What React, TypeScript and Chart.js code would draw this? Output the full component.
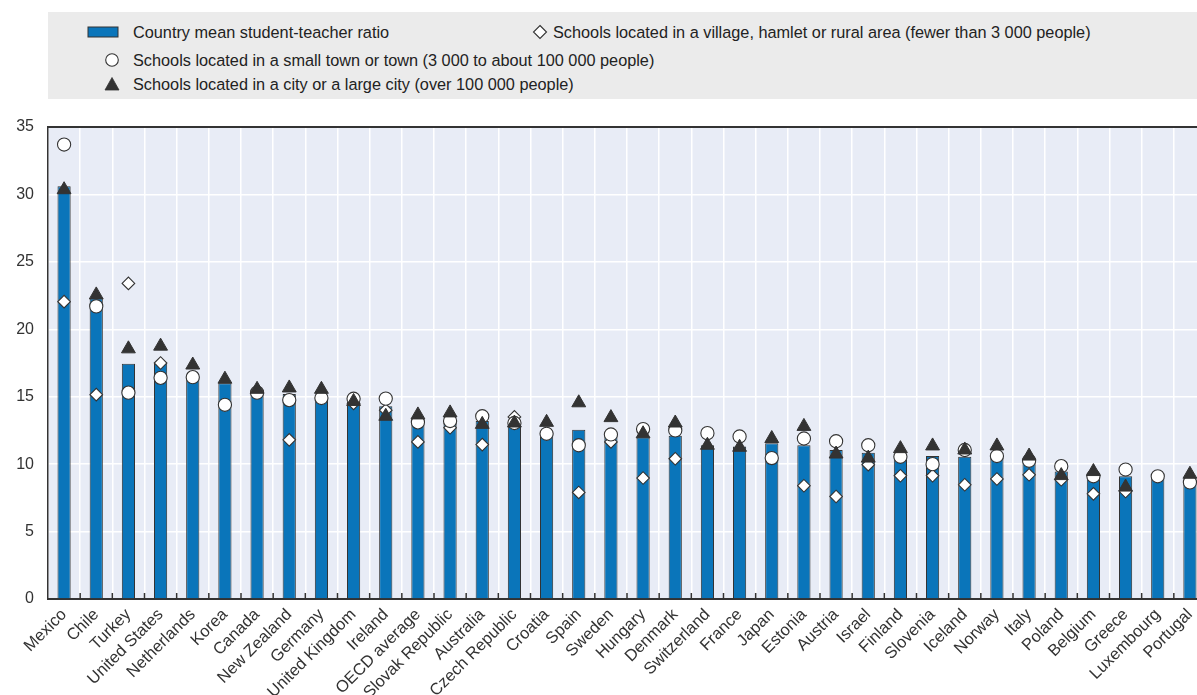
import React, { useEffect, useRef } from "react";
import { Chart, registerables } from "chart.js";

Chart.register(...registerables);

const countries = [
  "Mexico", "Chile", "Turkey", "United States", "Netherlands", "Korea", "Canada",
  "New Zealand", "Germany", "United Kingdom", "Ireland", "OECD average",
  "Slovak Republic", "Australia", "Czech Republic", "Croatia", "Spain", "Sweden",
  "Hungary", "Denmark", "Switzerland", "France", "Japan", "Estonia", "Austria",
  "Israel", "Finland", "Slovenia", "Iceland", "Norway", "Italy", "Poland",
  "Belgium", "Greece", "Luxembourg", "Portugal",
];

const meanRatio = [
  30.6, 22.3, 17.45, 17.5, 16.6, 16.0, 15.5, 15.2, 15.0, 14.6, 14.3, 13.4,
  13.2, 13.2, 12.95, 12.4, 12.55, 12.2, 12.0, 12.1, 11.4, 11.3, 11.55, 11.4,
  11.05, 10.85, 10.75, 10.6, 10.55, 10.85, 10.15, 9.45, 9.35, 9.1, 9.0, 8.85,
];

const ruralRatio: (number | null)[] = [
  22.05, 15.15, 23.4, 17.5, null, null, null, 11.8, null, 14.5, 14.0, 11.65,
  12.7, 11.45, 13.5, null, 7.9, 11.65, 8.97, 10.4, null, null, null, 8.4,
  7.6, 9.96, 9.14, 9.14, 8.47, 8.9, 9.21, 8.84, 7.8, 7.97, null, null,
];

const townRatio: (number | null)[] = [
  33.7, 21.7, 15.3, 16.4, 16.45, 14.4, 15.3, 14.75, 14.9, 14.85, 14.86, 13.1,
  13.2, 13.55, 13.05, 12.25, 11.4, 12.2, 12.6, 12.5, 12.3, 12.05, 10.45, 11.9,
  11.7, 11.4, 10.55, 10.0, 11.05, 10.6, 10.25, 9.85, 9.1, 9.6, 9.1, 8.65,
];

const cityRatio: (number | null)[] = [
  30.35, 22.55, 18.55, 18.75, 17.35, 16.3, 15.55, 15.65, 15.55, 14.65, 13.55, 13.65,
  13.8, 12.95, 13.05, 13.1, 14.55, 13.45, 12.25, 13.05, 11.4, 11.25, 11.9, 12.8,
  10.75, 10.45, 11.15, 11.35, 11.05, 11.35, 10.6, 9.15, 9.45, 8.3, null, 9.25,
];

const legendLabels = [
  "Country mean student-teacher ratio",
  "Schools located in a village, hamlet or rural area (fewer than 3 000 people)",
  "Schools located in a small town or town (3 000 to about 100 000 people)",
  "Schools located in a city or a large city (over 100 000 people)",
];

const BLUE = "#0a75ba";
const DARK = "#333333";
const PLOT_BG = "#e8ecf6";
const FONT = "'Liberation Sans', Arial, Helvetica, sans-serif";

const plotDecor = {
  id: "plotDecor",
  beforeDraw(chart: any) {
    const { ctx, chartArea } = chart;
    ctx.save();
    ctx.fillStyle = PLOT_BG;
    ctx.fillRect(chartArea.left, chartArea.top, chartArea.right - chartArea.left, chartArea.bottom - chartArea.top);
    ctx.restore();
  },
  beforeDatasetsDraw(chart: any) {
    const { ctx, chartArea } = chart;
    const xs = chart.scales.x;
    ctx.save();
    ctx.strokeStyle = DARK;
    ctx.lineWidth = 1.5;
    for (let i = 1; i < countries.length; i++) {
      const bx = (xs.getPixelForValue(i - 1) + xs.getPixelForValue(i)) / 2;
      ctx.beginPath();
      ctx.moveTo(bx, chartArea.bottom - 6);
      ctx.lineTo(bx, chartArea.bottom);
      ctx.stroke();
    }
    ctx.strokeStyle = DARK;
    ctx.lineWidth = 2;
    ctx.beginPath();
    ctx.moveTo(chartArea.left, chartArea.top);
    ctx.lineTo(chartArea.right, chartArea.top);
    ctx.stroke();
    ctx.restore();
  },
};

function LegendSymbol({ kind }: { kind: string }) {
  if (kind === "bar") {
    return (
      <svg width="32" height="12" style={{ display: "block" }}>
        <rect x="1" y="1" width="30" height="10" fill={BLUE} stroke={DARK} strokeWidth="1" />
      </svg>
    );
  }
  if (kind === "diamond") {
    return (
      <svg width="16" height="16" style={{ display: "block" }}>
        <polygon points="8,1.5 14.5,8 8,14.5 1.5,8" fill="#fff" stroke={DARK} strokeWidth="1.1" />
      </svg>
    );
  }
  if (kind === "circle") {
    return (
      <svg width="16" height="16" style={{ display: "block" }}>
        <circle cx="8" cy="8" r="6.3" fill="#fff" stroke={DARK} strokeWidth="1.1" />
      </svg>
    );
  }
  return (
    <svg width="16" height="16" style={{ display: "block" }}>
      <polygon points="8,1.5 15,14 1,14" fill={DARK} stroke={DARK} strokeWidth="0.8" />
    </svg>
  );
}

export default function App() {
  const canvasRef = useRef<HTMLCanvasElement | null>(null);

  useEffect(() => {
    if (!canvasRef.current) return;
    const chart = new Chart(canvasRef.current, {
      type: "bar",
      data: {
        labels: countries,
        datasets: [
          {
            type: "bar",
            label: legendLabels[0],
            data: meanRatio,
            backgroundColor: BLUE,
            borderColor: DARK,
            borderWidth: 1,
            barPercentage: 0.41,
            categoryPercentage: 1,
            order: 4,
          },
          {
            type: "line",
            label: legendLabels[1],
            data: ruralRatio,
            showLine: false,
            pointStyle: "rectRot",
            pointRadius: 6.3,
            pointBackgroundColor: "#ffffff",
            pointBorderColor: DARK,
            pointBorderWidth: 1.1,
            order: 3,
          },
          {
            type: "line",
            label: legendLabels[2],
            data: townRatio,
            showLine: false,
            pointStyle: "circle",
            pointRadius: 6.6,
            pointBackgroundColor: "#ffffff",
            pointBorderColor: DARK,
            pointBorderWidth: 1.1,
            order: 2,
          },
          {
            type: "line",
            label: legendLabels[3],
            data: cityRatio,
            showLine: false,
            pointStyle: "triangle",
            pointRadius: 8,
            pointBackgroundColor: DARK,
            pointBorderColor: DARK,
            pointBorderWidth: 1,
            order: 1,
          },
        ],
      },
      options: {
        responsive: false,
        animation: false,
        layout: { padding: { top: 127, right: 4, left: 0, bottom: 0 } },
        plugins: { legend: { display: false }, tooltip: { enabled: false } },
        scales: {
          x: {
            offset: true,
            grid: { color: "#ffffff", lineWidth: 1.5, drawTicks: false, offset: true },
            border: { color: DARK, width: 2 },
            ticks: {
              autoSkip: false,
              maxRotation: 45,
              minRotation: 45,
              padding: 6,
              color: DARK,
              font: { family: FONT, size: 16.5 },
            },
            afterFit(scale: any) {
              scale.height = 96;
            },
          },
          y: {
            min: 0,
            max: 35,
            grid: { color: "#ffffff", lineWidth: 1.5, drawTicks: false },
            border: { color: DARK, width: 1.5 },
            ticks: {
              stepSize: 5,
              padding: 14,
              color: DARK,
              font: { family: FONT, size: 16 },
            },
            afterFit(scale: any) {
              scale.width = 48;
            },
          },
        },
      },
      plugins: [plotDecor],
    });
    return () => chart.destroy();
  }, []);

  const textStyle: React.CSSProperties = {
    position: "absolute",
    fontFamily: FONT,
    fontSize: 16.3,
    color: "#222",
    whiteSpace: "nowrap",
    lineHeight: "18px",
  };

  return (
    <div
      style={{
        position: "fixed",
        left: 0,
        top: 0,
        width: 1197,
        height: 695,
        overflow: "hidden",
        background: "#ffffff",
      }}
    >
      <canvas ref={canvasRef} width={1215} height={695} style={{ position: "absolute", left: 0, top: 0, display: "block" }} />
      <div style={{ position: "absolute", left: 48, top: 12, width: 1149, height: 87, background: "#ebebeb" }} />
      <div style={{ position: "absolute", left: 87, top: 26 }}><LegendSymbol kind="bar" /></div>
      <div style={{ ...textStyle, left: 133, top: 23 }}>{legendLabels[0]}</div>
      <div style={{ position: "absolute", left: 532, top: 24 }}><LegendSymbol kind="diamond" /></div>
      <div style={{ ...textStyle, left: 553, top: 23 }}>{legendLabels[1]}</div>
      <div style={{ position: "absolute", left: 104, top: 52 }}><LegendSymbol kind="circle" /></div>
      <div style={{ ...textStyle, left: 133, top: 51 }}>{legendLabels[2]}</div>
      <div style={{ position: "absolute", left: 104, top: 76 }}><LegendSymbol kind="triangle" /></div>
      <div style={{ ...textStyle, left: 133, top: 75 }}>{legendLabels[3]}</div>
    </div>
  );
}
